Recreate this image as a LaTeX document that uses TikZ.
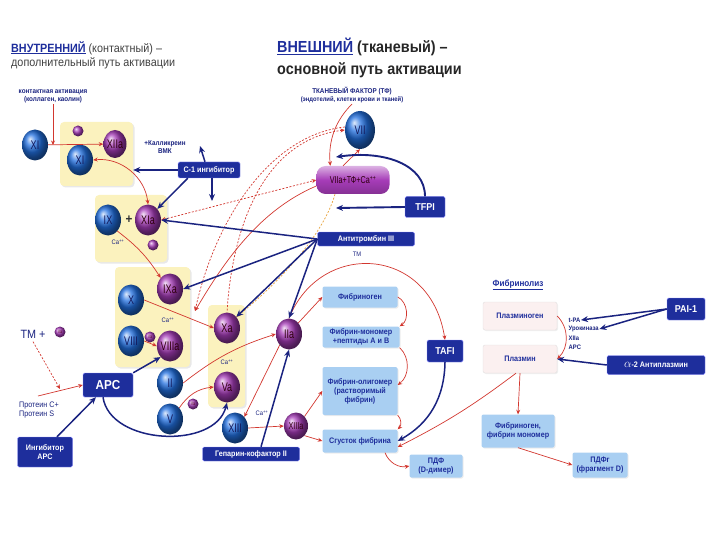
\documentclass[tikz,border=0pt]{standalone}
\usepackage{fontspec}
\setmainfont[FakeStretch=0.9]{Liberation Sans}
\newfontfamily\narrowf[FakeStretch=0.72]{Liberation Sans}
\usetikzlibrary{positioning, arrows.meta, calc, shapes.geometric, shadows}

\definecolor{facblue}{HTML}{2270E0}
\definecolor{facpurple}{HTML}{A63CB8}
\definecolor{inkblue}{HTML}{1A2380}
\definecolor{boxnavy}{HTML}{1E2E9C}
\definecolor{zoneyel}{HTML}{FBF2BE}
\definecolor{fibblue}{HTML}{A9CFF2}
\definecolor{arrred}{HTML}{D2372F}
\definecolor{dashorange}{HTML}{E8A23A}
\definecolor{plpink}{HTML}{FBF0F0}

\newcommand{\fsSmall}{\fontsize{7}{8}\selectfont}
\newcommand{\fsBox}{\fontsize{8}{9}\selectfont}
\newcommand{\fsFac}{\narrowf\fontsize{12.5}{13}\selectfont}
\newcommand{\caplus}{Ca\textsuperscript{++}}

\tikzset{
  fac/.style={ellipse, shading=ball, ball color=facblue, minimum width=26pt, minimum height=31pt, inner sep=0pt, font=\fsFac, text=inkblue!70!black},
  act/.style={fac, ball color=facpurple, text=black!75!purple},
  mini/.style={circle, shading=ball, ball color=facpurple, minimum size=11pt, inner sep=0pt, font=\narrowf\fontsize{5}{5}\selectfont, text=black!60!purple},
  zone/.style={fill=zoneyel, rounded corners=4pt, drop shadow={opacity=0.18, shadow xshift=1.5pt, shadow yshift=-1.5pt}},
  navybox/.style={fill=boxnavy, draw=blue!45, line width=0.4pt, text=white, font=\fsBox\bfseries, rounded corners=1.5pt, inner sep=1pt, align=center},
  fibbox/.style={fill=fibblue, text=boxnavy, font=\fsBox\bfseries, rounded corners=2pt, align=center, inner sep=1pt, drop shadow={opacity=0.15, shadow xshift=1pt, shadow yshift=-1pt}},
  plbox/.style={fill=plpink, draw=black!12, text=boxnavy, font=\fsBox\bfseries, rounded corners=2pt, inner sep=1pt, drop shadow={opacity=0.12, shadow xshift=1pt, shadow yshift=-1pt}},
  calbl/.style={font=\fontsize{6.5}{7}\selectfont, text=inkblue},
  redarr/.style={->, draw=arrred, line width=0.7pt},
  reddash/.style={redarr, dash pattern=on 2pt off 1.6pt},
  bluearr/.style={-{Stealth[length=7pt, width=6pt]}, draw=inkblue, line width=1.5pt},
}

\begin{document}
\begin{tikzpicture}[x=1pt, y=-1pt, >={Stealth[length=4.5pt, width=4pt]}]
\useasboundingbox (0,0) rectangle (720,540);

% --- 1. ЗАГОЛОВКИ ---
\node[anchor=north west, inner sep=0pt, align=left, font=\fontsize{12}{14}\selectfont, text=black!75] (intTitle) at (11,41)
  {{\bfseries\color{boxnavy}\underline{ВНУТРЕННИЙ}} (контактный) –\\дополнительный путь активации};
\node[anchor=north west, inner sep=0pt, align=left, font=\fontsize{16}{22}\selectfont\bfseries, text=black!85] (extTitle) at (277,38)
  {{\color{boxnavy}\underline{ВНЕШНИЙ}} (тканевый) –\\основной путь активации};
\node[font=\fsSmall\bfseries, text=inkblue, align=center, inner sep=1pt] (tf) at (352,95)
  {ТКАНЕВЫЙ ФАКТОР (ТФ)\\{\fontsize{6.5}{7.5}\selectfont(эндотелий, клетки крови и тканей)}};
\node[font=\fsSmall\bfseries, text=inkblue, align=center, inner sep=1pt] (contact) at (53,96)
  {контактная активация\\(коллаген, каолин)};

% --- 2. ЖЁЛТЫЕ КОМПЛЕКСЫ ---
\node[zone, minimum width=73, minimum height=64] (zone1) at (96.5,154) {};
\node[zone, minimum width=72, minimum height=67] (zone2) at (131,228.5) {};
\node[zone, minimum width=75, minimum height=100] (zone3) at (152.5,317) {};
\node[zone, minimum width=37, minimum height=102] (zone4) at (226.5,356) {};

% --- 3. ФАКТОРЫ СВЁРТЫВАНИЯ ---
\node[fac] (XIo) at (35,145) {XI};
\node[mini] (m1) at (78,131) {};
\node[act, minimum width=23, minimum height=28] (XIIa) at (115,144) {XIIa};
\node[fac] (XIi) at (80,160) {XI};

\node[fac] (IX) at (108,220) {IX};
\node[font=\fontsize{13}{13}\selectfont\bfseries, text=black!80] (plus) at (129,220) {+};
\node[act] (XIa) at (148,220) {XIa};
\node[calbl] (ca1) at (118,242) {\caplus};
\node[mini] (m2) at (153,245) {};

\node[act] (IXa) at (170,289) {IXa};
\node[fac] (X) at (131,300) {X};
\node[calbl] (ca2) at (168,320) {\caplus};
\node[fac] (VIII) at (131,341) {VIII};
\node[mini] (m3) at (150,337) {IIa};
\node[act] (VIIIa) at (170,346) {VIIIa};

\node[act] (Xa) at (227,328) {Xa};
\node[calbl] (ca3) at (227,362) {\caplus};
\node[act] (Va) at (227,387) {Va};

\node[fac] (II) at (170,383) {II};
\node[fac] (V) at (170,419) {V};
\node[mini] (m4) at (193,404) {IIa};
\node[fac] (XIII) at (235,428) {XIII};
\node[calbl] (ca4) at (262,413) {\caplus};
\node[act, minimum width=24, minimum height=27, font=\narrowf\fontsize{10}{11}\selectfont] (XIIIa) at (296,426) {XIIIa};
\node[act] (IIa) at (289,334) {IIa};

% внешний путь
\node[fac, minimum width=30, minimum height=38] (VII) at (360,130) {VII};
\node[rectangle, rounded corners=9pt, minimum width=73, minimum height=28, inner sep=0pt,
      top color=facpurple!40!white, bottom color=facpurple!80!black, middle color=facpurple,
      font=\narrowf\fontsize{10}{10}\selectfont, text=black!75!purple] (cplx) at (353,180) {VIIa+ТФ+\caplus};

% --- 4. ИНГИБИТОРЫ И ТЕКСТЫ ---
\node[font=\fsSmall\bfseries, text=inkblue, align=center] (kal) at (165,147) {+Калликреин\\ВМК};
\coordinate (kalpt) at (200,146);
\node[navybox, minimum width=62, minimum height=16] (c1) at (209,170) {С-1 ингибитор};
\coordinate (c1pt) at (212,201);
\node[navybox, minimum width=40, minimum height=21, font=\fontsize{10}{11}\selectfont\bfseries] (tfpi) at (425,207) {TFPI};
\coordinate (tfpiup) at (336,157);
\coordinate (tfpilow) at (336,208);
\node[navybox, minimum width=97, minimum height=14] (at3) at (366,239) {Антитромбин III};
\node[navybox, minimum width=50, minimum height=24, font=\fontsize{13}{14}\selectfont\bfseries] (apc) at (108,385) {APC};
\node[navybox, minimum width=55, minimum height=30] (inh) at (45,452) {Ингибитор\\APC};
\node[navybox, minimum width=97, minimum height=14] (hep) at (251,454) {Гепарин-кофактор II};

\node[font=\fontsize{12}{12}\selectfont, text=inkblue] (tm) at (33,334) {TM +};
\node[mini] (mTM) at (60,332) {IIa};
\coordinate (tmpt) at (60,389);
\node[anchor=west, align=left, font=\fontsize{8}{9.5}\selectfont, text=inkblue, inner sep=0pt] (prot) at (19,410) {Протеин С+\\Протеин S};
\coordinate (protpt) at (38,396);
\node[font=\fontsize{6.5}{7}\selectfont, text=inkblue] (tmlbl) at (357,254) {ТМ};
\coordinate (tenpt) at (195,311);

% --- 5. ФИБРИН ---
\node[fibbox, minimum width=75, minimum height=21] (fgn) at (360,297) {Фибриноген};
\node[fibbox, minimum width=77, minimum height=21] (mono) at (361,337) {Фибрин-мономер\\+пептиды А и В};
\node[fibbox, minimum width=75, minimum height=48] (olig) at (360,391) {Фибрин-олигомер\\(растворимый\\фибрин)};
\node[fibbox, minimum width=75, minimum height=23] (clot) at (360,441) {Сгусток фибрина};
\node[navybox, minimum width=36, minimum height=22, font=\fontsize{10}{11}\selectfont\bfseries] (tafi) at (445,351) {TAFI};
\node[fibbox, minimum width=53, minimum height=23] (pdf) at (436,466) {ПДФ\\(D-димер)};

% --- 6. ФИБРИНОЛИЗ ---
\node[font=\fontsize{9}{10}\selectfont\bfseries, text=boxnavy] (fibrinol) at (518,285) {\underline{Фибринолиз}};
\node[plbox, minimum width=74, minimum height=28] (plg) at (520,316) {Плазминоген};
\node[plbox, minimum width=74, minimum height=28] (pls) at (520,359) {Плазмин};
\node[anchor=west, calbl, font=\fontsize{6.5}{7}\selectfont\bfseries, inner sep=0.5pt] (tpa) at (568,320) {t-PA};
\node[anchor=west, calbl, font=\fontsize{6.5}{7}\selectfont\bfseries, inner sep=0.5pt] (uro) at (568,329) {Урокиназа};
\node[anchor=west, calbl, font=\fontsize{6.5}{7}\selectfont\bfseries, inner sep=0.5pt] (xiial) at (568,338) {XIIa};
\node[anchor=west, calbl, font=\fontsize{6.5}{7}\selectfont\bfseries, inner sep=0.5pt] (apcl) at (568,347) {APC};
\node[navybox, minimum width=38, minimum height=22, font=\fontsize{10}{11}\selectfont\bfseries] (pai) at (686,309) {PAI-1};
\node[navybox, minimum width=98, minimum height=19] (apl) at (656,365) {{\large$\alpha$}-2 Антиплазмин};
\node[fibbox, minimum width=73, minimum height=33] (fdm) at (518,431) {Фибриноген,\\фибрин мономер};
\node[fibbox, minimum width=55, minimum height=25] (pdfg) at (600,465) {ПДФг\\(фрагмент D)};

% --- 7. КРАСНЫЕ СТРЕЛКИ (активация) ---
\draw[redarr] (contact.south) -- (contact.south |- XIo.east);
\draw[redarr] (XIo) -- (XIIa);
\draw[redarr, <->] (XIi.east) to[bend left=45] (XIa.north);
\draw[redarr] (IX.south east) to[bend left=10] (IXa.north west);
\draw[redarr] (X.east) -- (Xa.west);
\draw[redarr] (VIII.east) -- (VIIIa.west);
\draw[redarr] (II.east) to[bend left=10] (IIa.west);
\draw[redarr] (V.north east) to[bend left=25] (Va.west);
\draw[redarr] (IIa.south west) -- (XIII.north east);
\draw[redarr] (XIII.east) -- (XIIIa.west);
\draw[redarr] (IIa.north east) -- (fgn.west);
\draw[redarr] (IIa.north) .. controls (320,240) and (430,245) .. (tafi.north);
\draw[redarr] (fgn.east) to[bend left=60] (mono.north east);
\draw[redarr] (mono.south east) to[bend left=50] ($(olig.east)+(0,-6)$);
\draw[redarr] (olig.south east) to[bend left=45] (clot.north east);
\draw[redarr] (XIIIa.north east) -- (olig.west);
\draw[redarr] (XIIIa.south east) -- (clot.west);
\draw[redarr] ($(clot.south)+(25,0)$) to[bend right=40] (pdf.west);
\draw[redarr] (plg.east) to[bend left=45] (pls.east);
\draw[redarr] (pls.south) -- (fdm.north);
\draw[redarr] ($(pls.south)+(-4,0)$) to[bend left=5] ($(clot.east)+(0,6)$);
\draw[redarr] (fdm.south) -- (pdfg.west);
\draw[redarr] (tf.south) .. controls (336,120) and (328,140) .. ($(cplx.north west)+(14,0)$);
\draw[redarr] ($(cplx.north)+(-10,0)$) -- (VII.south);
\draw[redarr] (protpt) -- (apc.west);
\draw[reddash] (tm.south) -- (tmpt);

% пунктир: внешний путь
\draw[reddash, <->] (XIa.east) -- (cplx.west);
\draw[reddash, <-] (VII.west) .. controls (262,140) and (232,230) .. (Xa.north);
\draw[reddash] ($(VII.west)+(0,-3)$) .. controls (270,135) and (215,220) .. (tenpt);
\draw[redarr, dashorange, dash pattern=on 2pt off 1.6pt] ($(cplx.south)+(-18,0)$) .. controls (322,240) and (270,290) .. (Xa.north east);
\draw[redarr] ($(cplx.west)+(0,6)$) .. controls (260,210) and (225,260) .. (tenpt);

% --- 8. СИНИЕ СТРЕЛКИ (ингибирование) ---
\draw[bluearr] (c1.west) -- (zone1.east |- c1.west);
\draw[bluearr] ($(c1.north)+(-4,0)$) -- (kalpt);
\draw[bluearr] ($(c1.south west)+(10,0)$) -- (XIa.north east);
\draw[bluearr] ($(c1.south)+(3,0)$) -- (c1pt);
\draw[bluearr] (at3.west) -- (XIa.east);
\draw[bluearr] (at3.west) -- (IXa.east);
\draw[bluearr] (at3.west) -- (Xa.north east);
\draw[bluearr] (at3.west) -- (IIa.north);
\draw[bluearr, line width=1.9pt] (tfpi.north) .. controls (425,165) and (385,150) .. (tfpiup);
\draw[bluearr, line width=1.9pt] (tfpi.west) -- (tfpilow);
\draw[bluearr] (apc.north east) -- (VIIIa.south west);
\draw[bluearr] ($(apc.south)+(-5,0)$) .. controls (110,445) and (215,450) .. (Va.south);
\draw[bluearr] ($(inh.north)+(12,0)$) -- ($(apc.south)+(-12,0)$);
\draw[bluearr] ($(hep.north)+(10,0)$) -- (IIa.south);
\draw[bluearr] (tafi.south) to[bend left=30] (clot.east);
\draw[bluearr] (pai.west) -- (tpa.east);
\draw[bluearr] (pai.west) -- (uro.east);
\draw[bluearr] (apl.west) -- (pls.east);

\end{tikzpicture}
\end{document}
